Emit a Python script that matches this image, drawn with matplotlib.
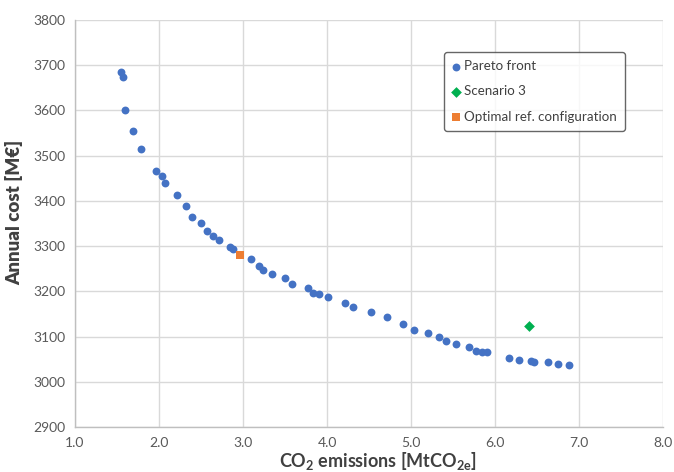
import matplotlib
matplotlib.use("Agg")
import matplotlib.pyplot as plt

plt.rcParams['font.family'] = ['Lato', 'DejaVu Sans']
plt.rcParams['mathtext.default'] = 'regular'

# Data
pareto_emissions = [1.55, 1.575, 1.595, 1.69, 1.79, 1.96, 2.04, 2.07, 2.21, 2.32,
                    2.39, 2.50, 2.57, 2.64, 2.71, 2.85, 2.88, 3.10, 3.19, 3.24,
                    3.34, 3.50, 3.58, 3.77, 3.83, 3.90, 4.01, 4.21, 4.31, 4.52,
                    4.71, 4.90, 5.03, 5.20, 5.33, 5.42, 5.54, 5.69, 5.77, 5.85,
                    5.91, 6.17, 6.29, 6.43, 6.47, 6.63, 6.75, 6.88]
pareto_cost = [3684, 3675, 3602, 3555, 3514, 3467, 3456, 3439, 3412, 3388,
               3365, 3352, 3334, 3323, 3314, 3298, 3293, 3271, 3255, 3247,
               3238, 3230, 3217, 3208, 3197, 3194, 3188, 3174, 3166, 3154,
               3143, 3127, 3115, 3107, 3098, 3091, 3084, 3076, 3069, 3066,
               3065, 3053, 3049, 3047, 3043, 3043, 3039, 3036]
scenario3_emissions = [6.41]
scenario3_cost = [3124]
optimal_ref_emissions = [2.97]
optimal_ref_cost = [3281]

x_ticks = [1.0, 2.0, 3.0, 4.0, 5.0, 6.0, 7.0, 8.0]
y_ticks = [2900, 3000, 3100, 3200, 3300, 3400, 3500, 3600, 3700, 3800]

W, H = 674, 472
fig = plt.figure(figsize=(W/100, H/100), dpi=100)
ax = fig.add_axes([75/W, 45/H, 588/W, 407/H])

ax.scatter(pareto_emissions, pareto_cost, s=32, color='#4472C4', marker='o',
           label='Pareto front', zorder=3, linewidths=0)
ax.scatter(scenario3_emissions, scenario3_cost, s=30, color='#00B050', marker='D',
           label='Scenario 3', zorder=3, linewidths=0)
ax.scatter(optimal_ref_emissions, optimal_ref_cost, s=34, color='#ED7D31', marker='s',
           label='Optimal ref. configuration', zorder=3, linewidths=0)

ax.set_xlim(1.0, 8.0)
ax.set_ylim(2900, 3800)
ax.set_xticks(x_ticks)
ax.set_xticklabels([f"{v:.1f}" for v in x_ticks])
ax.set_yticks(y_ticks)
ax.grid(True, color='#D9D9D9', linewidth=1)
ax.set_axisbelow(True)
for side in ['top', 'right']:
    ax.spines[side].set_visible(False)
for side in ['left', 'bottom']:
    ax.spines[side].set_color('#BFBFBF')
    ax.spines[side].set_linewidth(1)
ax.tick_params(length=0, labelsize=10, colors='#595959', pad=7)

ax.set_ylabel('Annual cost [M€]', fontsize=13.5, fontweight='heavy', color='#404040')
ax.yaxis.set_label_coords((23 - 75)/588, (427 - 212)/407)
fig.text(378/W, 5/H, 'CO$_2$ emissions [MtCO$_{2e}$]', fontsize=13, fontweight='bold',
         color='#404040', ha='center', va='baseline')

leg = ax.legend(loc='upper left', bbox_to_anchor=((444-75)/588, (427-52)/407),
                borderaxespad=0, fontsize=9.6, handlelength=0.6, handletextpad=0.3,
                labelspacing=1.0, frameon=True, fancybox=True, borderpad=0.6)
leg.get_frame().set_edgecolor('#404040')
leg.get_frame().set_linewidth(1)
for t in leg.get_texts():
    t.set_color('#404040')

fig.savefig('out.png', dpi=100)
